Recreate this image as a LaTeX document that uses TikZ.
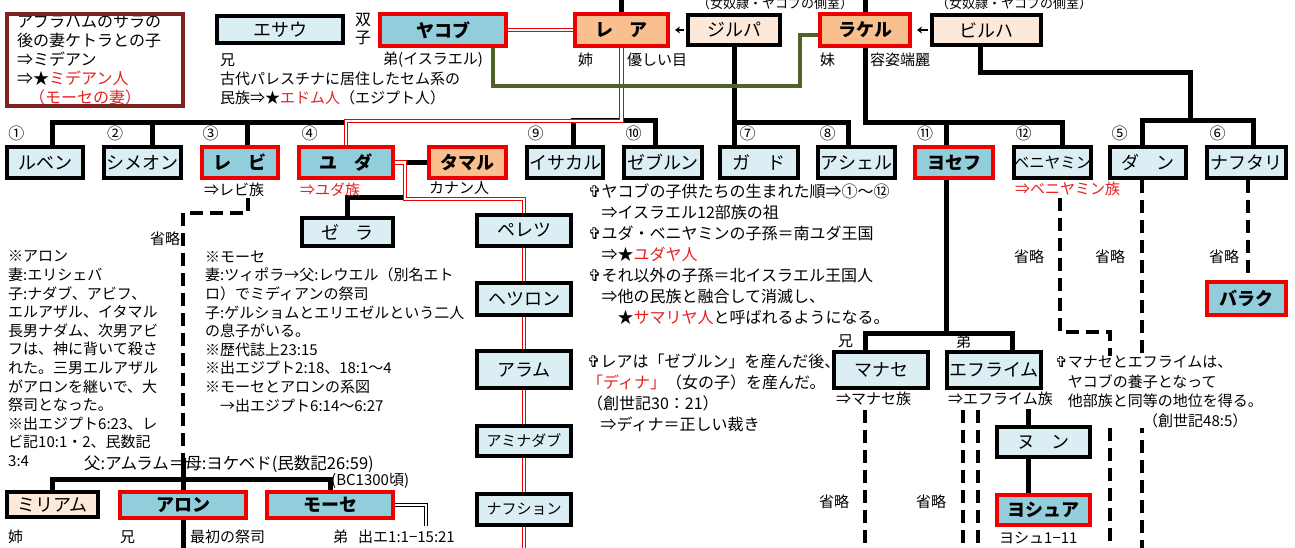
\documentclass[tikz,border=0pt]{standalone}
\usepackage{fontspec}
\setmainfont{Noto Sans CJK JP}
\newfontfamily\dejavu{DejaVu Sans}
\usetikzlibrary{arrows.meta,backgrounds}
\definecolor{lb}{HTML}{DBEEF4}
\definecolor{mb}{HTML}{92CDDC}
\definecolor{orng}{HTML}{F9BF8F}
\definecolor{pch}{HTML}{FDE9D9}
\definecolor{bred}{HTML}{EE0000}
\definecolor{tred}{HTML}{E42020}
\definecolor{dred}{HTML}{7F2222}
\definecolor{grn}{HTML}{4F6228}
\newcommand{\rt}[1]{\textcolor{tred}{#1}}
\newcommand{\crs}{{\dejavu ✞}}
\begin{document}
\begin{tikzpicture}[x=1pt,y=-1pt,
  box/.style={draw, line width=4pt, inner sep=0pt, text=black, font=\fontsize{18}{18}\selectfont},
  bA/.style={box, fill=lb, draw=black},
  bB/.style={box, fill=mb, draw=bred, font=\fontsize{18}{18}\selectfont\bfseries},
  bC/.style={box, fill=orng, draw=bred, font=\fontsize{18}{18}\selectfont\bfseries},
  bD/.style={box, fill=pch, draw=black},
  blk/.style={draw=black, line width=5pt},
  dsh/.style={draw=black, line width=3.5pt, dash pattern=on 13pt off 7pt},
  reddbl/.style={draw=bred, line width=1.2pt, double=white, double distance=2.4pt},
  blkdbl/.style={draw=black, line width=1.1pt, double=white, double distance=2.4pt},
  grnline/.style={draw=grn, line width=4pt},
  arr/.style={draw=black, line width=1.6pt, -{Stealth[length=5pt,width=7pt]}, shorten >=5pt, shorten <=2pt},
  tx/.style={inner sep=0pt, anchor=west, font=\fontsize{15}{15}\selectfont},
  num/.style={inner sep=0pt, font=\fontsize{16}{16}\selectfont},
  tb/.style={inner sep=0pt, anchor=north west, align=left}
]
\clip (0,0) rectangle (1295,547);

% ---------- free texts ----------
\node[tb, font=\fontsize{16}{19}\selectfont] (nt0) at (17,14) {アブラハムのサラの\\後の妻ケトラとの子\\⇒ミデアン\\⇒★\rt{ミデアン人}\\\hspace{0.75em}\rt{（モーセの妻）}};
\node[inner sep=0pt, align=center, font=\fontsize{16}{18}\selectfont] (tw) at (363,29) {双\\子};
\node[tx] (t1) at (220,60) {兄};
\node[tx] (t2) at (383,60) {弟(イスラエル)};
\node[tb, font=\fontsize{15}{19}\selectfont] (t3) at (220,71.5) {古代パレスチナに居住したセム系の\\民族⇒★\rt{エドム人}（エジプト人）};
\node[tx] (t4) at (578,60) {姉};
\node[tx] (t5) at (627,60) {優しい目};
\node[tx] (t6) at (820,60) {妹};
\node[tx] (t7) at (870,60) {容姿端麗};
\node[inner sep=0pt, font=\fontsize{13}{13}\selectfont] (t8) at (775,4) {（女奴隷・ヤコブの側室）};
\node[inner sep=0pt, font=\fontsize{13}{13}\selectfont] (t9) at (1014,4) {（女奴隷・ヤコブの側室）};

\node[num] (n1) at (16.5,133) {①};
\node[num] (n2) at (115,133) {②};
\node[num] (n3) at (210.5,133) {③};
\node[num] (n4) at (309.5,133) {④};
\node[num] (n9) at (535.5,133) {⑨};
\node[num] (n10) at (633.5,133) {⑩};
\node[num] (n7) at (747.5,133) {⑦};
\node[num] (n8) at (827.5,133) {⑧};
\node[num] (n11) at (925,133) {⑪};
\node[num] (n12) at (1023.5,133) {⑫};
\node[num] (n5) at (1119.5,133) {⑤};
\node[num] (n6) at (1217.5,133) {⑥};

\node[tx] (t10) at (204,190) {⇒レビ族};
\node[tx, text=tred] (t11) at (300,190) {⇒ユダ族};
\node[tx] (t12) at (429,188) {カナン人};
\node[tx, text=tred] (t13) at (1015,189) {⇒ベニヤミン族};

\node[tx, anchor=center] (s1) at (165,239) {省略};
\node[tx, anchor=center] (s2) at (1029,257) {省略};
\node[tx, anchor=center] (s3) at (1110,257) {省略};
\node[tx, anchor=center] (s4) at (1224,257) {省略};
\node[tx, anchor=center] (s5) at (834,502) {省略};
\node[tx, anchor=center] (s6) at (931,502) {省略};

\node[tb, font=\fontsize{15}{18.6}\selectfont] (ta) at (8,250.5) {※アロン\\妻:エリシェバ\\子:ナダブ、アビフ、\\エルアザル、イタマル\\長男ナダム、次男アビ\\フは、神に背いて殺さ\\れた。三男エルアザル\\がアロンを継いで、大\\祭司となった。\\※出エジプト6:23、レ\\ビ記10:1・2、民数記\\3:4};
\node[tb, font=\fontsize{15}{18.6}\selectfont] (tm) at (205,250.5) {※モーセ\\妻:ツィポラ→父:レウエル（別名エト\\ロ）でミディアンの祭司\\子:ゲルショムとエリエゼルという二人\\の息子がいる。\\※歴代誌上23:15\\※出エジプト2:18、18:1〜4\\※モーセとアロンの系図\\\hspace{1em}→出エジプト6:14〜6:27};
\node[tx, font=\fontsize{16.5}{16.5}\selectfont] (tf) at (84,464) {父:アムラム＝母:ヨケベド(民数記26:59)};
\node[tx] (tbc) at (331,481) {(BC1300頃)};
\node[tx] (b1) at (8,537) {姉};
\node[tx] (b2) at (120,537) {兄};
\node[tx] (b3) at (190,537) {最初の祭司};
\node[tx] (b4) at (333,537) {弟};
\node[tx] (b5) at (358,537) {出エ1:1−15:21};

\node[tb, font=\fontsize{16}{21}\selectfont] (tj) at (588,184) {\crs ヤコブの子供たちの生まれた順⇒①〜⑫\\\phantom{\crs}⇒イスラエル12部族の祖\\\crs ユダ・ベニヤミンの子孫＝南ユダ王国\\\phantom{\crs}⇒★\rt{ユダヤ人}\\\crs それ以外の子孫＝北イスラエル王国人\\\phantom{\crs}⇒他の民族と融合して消滅し、\\\phantom{\crs⇒}★\rt{サマリヤ人}と呼ばれるようになる。};
\node[tb, font=\fontsize{16}{20.7}\selectfont] (tl) at (587,354) {\crs レアは「ゼブルン」を産んだ後、\\\rt{「ディナ」}（女の子）を産んだ。\\（創世記30：21）\\\phantom{\crs}⇒ディナ＝正しい裁き};
\node[tb, fill=white, font=\fontsize{15}{19.7}\selectfont] (te) at (1055,355.5) {\crs マナセとエフライムは、\\\phantom{\crs}ヤコブの養子となって\\\phantom{\crs}他部族と同等の地位を得る。\\\hspace{88pt}（創世記48:5）};
\node[tx] (k1) at (838,341) {兄};
\node[tx] (k2) at (956,342) {弟};
\node[tx] (k3) at (836,399) {⇒マナセ族};
\node[tx] (k4) at (948,399) {⇒エフライム族};
\node[tx] (k5) at (999,538) {ヨシュ1−11};

% ---------- boxes ----------
\node[draw=dred, line width=3.5pt, minimum width=176pt, minimum height=92pt, inner sep=0pt] (note) at (95,60) {};
\node[bA, minimum width=126pt, minimum height=27pt] (esau) at (280,29.5) {エサウ};
\node[bB, minimum width=126pt, minimum height=32pt] (jacob) at (443,30) {ヤコブ};
\node[bC, minimum width=93pt, minimum height=32pt] (leah) at (621.5,30) {レ\hspace{0.9em}ア};
\node[bD, minimum width=92pt, minimum height=30pt] (zilpah) at (734,30) {ジルパ};
\node[bC, minimum width=90pt, minimum height=32pt] (rachel) at (865,30) {ラケル};
\node[bD, minimum width=109pt, minimum height=30pt] (bilhah) at (986.5,30) {ビルハ};

\node[bA, minimum width=76pt, minimum height=31pt] (ruben) at (45,162.5) {ルベン};
\node[bA, minimum width=77pt, minimum height=31pt] (simeon) at (142.5,162.5) {シメオン};
\node[bB, minimum width=76pt, minimum height=31pt] (levi) at (240,162.5) {レ\hspace{0.9em}ビ};
\node[bB, minimum width=94pt, minimum height=31pt] (judah) at (346,162.5) {ユ\hspace{0.9em}ダ};
\node[bC, minimum width=77pt, minimum height=31pt] (tamar) at (467.5,162.5) {タマル};
\node[bA, minimum width=76pt, minimum height=31pt] (issachar) at (565,162.5) {イサカル};
\node[bA, minimum width=78pt, minimum height=31pt] (zebulun) at (663,162.5) {ゼブルン};
\node[bA, minimum width=78pt, minimum height=31pt] (gad) at (759,162.5) {ガ\hspace{0.9em}ド};
\node[bA, minimum width=77pt, minimum height=31pt] (asher) at (856.5,162.5) {アシェル};
\node[bB, minimum width=78pt, minimum height=31pt] (joseph) at (954,162.5) {ヨセフ};
\node[bA, minimum width=75pt, minimum height=31pt, font=\fontsize{15.5}{15.5}\selectfont] (benjamin) at (1052.5,162.5) {ベニヤミン};
\node[bA, minimum width=76pt, minimum height=31pt] (dan) at (1148,162.5) {ダ\hspace{0.9em}ン};
\node[bA, minimum width=79pt, minimum height=31pt] (naphtali) at (1246.5,162.5) {ナフタリ};

\node[bA, minimum width=91pt, minimum height=28pt] (zerah) at (347.5,232) {ゼ\hspace{0.9em}ラ};
\node[bA, minimum width=94pt, minimum height=31pt] (perez) at (524,230.5) {ペレツ};
\node[bA, minimum width=94pt, minimum height=32pt] (hezron) at (524,299) {ヘツロン};
\node[bA, minimum width=94pt, minimum height=37pt] (ram) at (524,369.5) {アラム};
\node[bA, minimum width=94pt, minimum height=30pt, font=\fontsize{15}{15}\selectfont] (amminadab) at (524,441) {アミナダブ};
\node[bA, minimum width=94pt, minimum height=31pt, font=\fontsize{15}{15}\selectfont] (nahshon) at (524,509.5) {ナフション};

\node[bB, minimum width=79pt, minimum height=33pt] (barak) at (1246.5,298.5) {バラク};
\node[bA, minimum width=94pt, minimum height=36pt] (manasseh) at (881,370) {マナセ};
\node[bA, minimum width=94pt, minimum height=36pt] (ephraim) at (994,370) {エフライム};
\node[bA, minimum width=93pt, minimum height=30pt] (nun) at (1043.5,442) {ヌ\hspace{0.9em}ン};
\node[bB, minimum width=93pt, minimum height=30pt] (joshua) at (1043.5,510) {ヨシュア};

\node[bD, minimum width=91pt, minimum height=25pt] (miriam) at (52.5,504.5) {ミリアム};
\node[bB, minimum width=126pt, minimum height=26pt] (aaron) at (183,505) {アロン};
\node[bB, minimum width=126pt, minimum height=26pt] (moses) at (330,505) {モーセ};

% ---------- connectors ----------
\begin{scope}[on background layer]
\coordinate (tL) at (621.5,-5);
\coordinate (tR) at (865,-5);
\coordinate (jR) at (865,122);
\coordinate (jJ) at (946,122);
\coordinate (jZ) at (734,122);
\coordinate (jB) at (1190,72);
\coordinate (jB2) at (1190,122);
\coordinate (jL) at (347,122);
\coordinate (jM) at (946,333);
\coordinate (jY) at (405,162.5);
\coordinate (jY2) at (405,199);
\coordinate (jZe) at (405,197);
\coordinate (lv1) at (183,213);
\coordinate (lv2) at (183,458);
\coordinate (aB) at (183,552);
\coordinate (mE) at (426,505);
\coordinate (mE2) at (426,526);
\coordinate (pB) at (524,552);
\coordinate (g1) at (800,86);
\coordinate (bj1) at (1060,198);
\coordinate (bj2) at (1110,332);
\coordinate (bj3) at (1110,552);
\coordinate (dn) at (1142,552);
\coordinate (ma1) at (865,410);
\coordinate (ma2) at (865,552);
\coordinate (ep1) at (963,410);
\coordinate (ep2) at (963,552);
\coordinate (ep3) at (978,410);
\coordinate (ep4) at (978,552);
\coordinate (nn) at (1028,409);

\draw[blk] (tL) -- (leah.north);
\draw[blk] (tR) -- (rachel.north);
\draw[blk] (rachel.south) -- (jR) -| ([xshift=9.5]benjamin.north);
\draw[blk] (jJ) -- ([xshift=-8]joseph.north);
\draw[blk] ([xshift=-8]joseph.south) -- (jM);
\draw[blk] ([xshift=-16]manasseh.north) |- (jM) -| ([xshift=18]ephraim.north);
\draw[blk] (zilpah.south) -- (gad.north -| zilpah.south);
\draw[blk] (jZ) -| ([xshift=-8.5]asher.north);
\draw[blk] ([xshift=-6.5]bilhah.south) |- (jB) -- (jB2);
\draw[blk] ([xshift=-6]dan.north) -- ++(0,-25) -| ([xshift=6.5]naphtali.north);
\draw[blk] ([xshift=7]ruben.north) |- (jL);
\draw[blk] ([xshift=10]simeon.north) -- ++(0,-25);
\draw[blk] ([xshift=7]levi.north) -- ++(0,-25);
\draw[blk] ([xshift=8]issachar.north) -- ++(0,-25) -| ([xshift=-8]zebulun.north);
\draw[reddbl] (leah.south) -- (621.5,121) -| (judah.north);
\draw[reddbl] (jacob.east) -- (leah.west);
\draw[grnline] ([xshift=50]jacob.south) |- (g1) |- ([yshift=-5]rachel.west);
\draw[arr] (zilpah.west) -- (leah.east);
\draw[arr] (bilhah.west) -- (rachel.east);
\draw[blk] (judah.east) -- (tamar.west);
\draw[blk] (jZe) -| (zerah.north);
\draw[reddbl] (judah.east) -- (jY) -- (jY2) -| (perez.north);
\draw[reddbl] (perez.south) -- (hezron.north);
\draw[reddbl] (hezron.south) -- (ram.north);
\draw[reddbl] (ram.south) -- (amminadab.north);
\draw[reddbl] (amminadab.south) -- (nahshon.north);
\draw[reddbl] (nahshon.south) -- (pB);
\draw[dsh] ([xshift=8,yshift=-18]levi.south) |- (lv1) -- (lv2);
\draw[blk] (lv2) -- (aaron.north);
\draw[blk] (miriam.north) -- ++(0,-11) -| (moses.north);
\draw[blk] (aaron.south) -- (aB);
\draw[blkdbl] (moses.east) -- (mE) -- (mE2);
\draw[dsh] (bj1) |- (bj2) -- (bj3);
\draw[dsh] ([xshift=-6]dan.south) -- (dn);
\draw[dsh] ([xshift=1.5]naphtali.south) -- ([xshift=1.5]barak.north);
\draw[dsh] (ma1) -- (ma2);
\draw[dsh] (ep1) -- (ep2);
\draw[dsh] (ep3) -- (ep4);
\draw[blk] (nn) -- ([xshift=-15.5]nun.north);
\draw[blk] ([xshift=-15.5]nun.south) -- ([xshift=-15.5]joshua.north);
\end{scope}
\end{tikzpicture}
\end{document}
